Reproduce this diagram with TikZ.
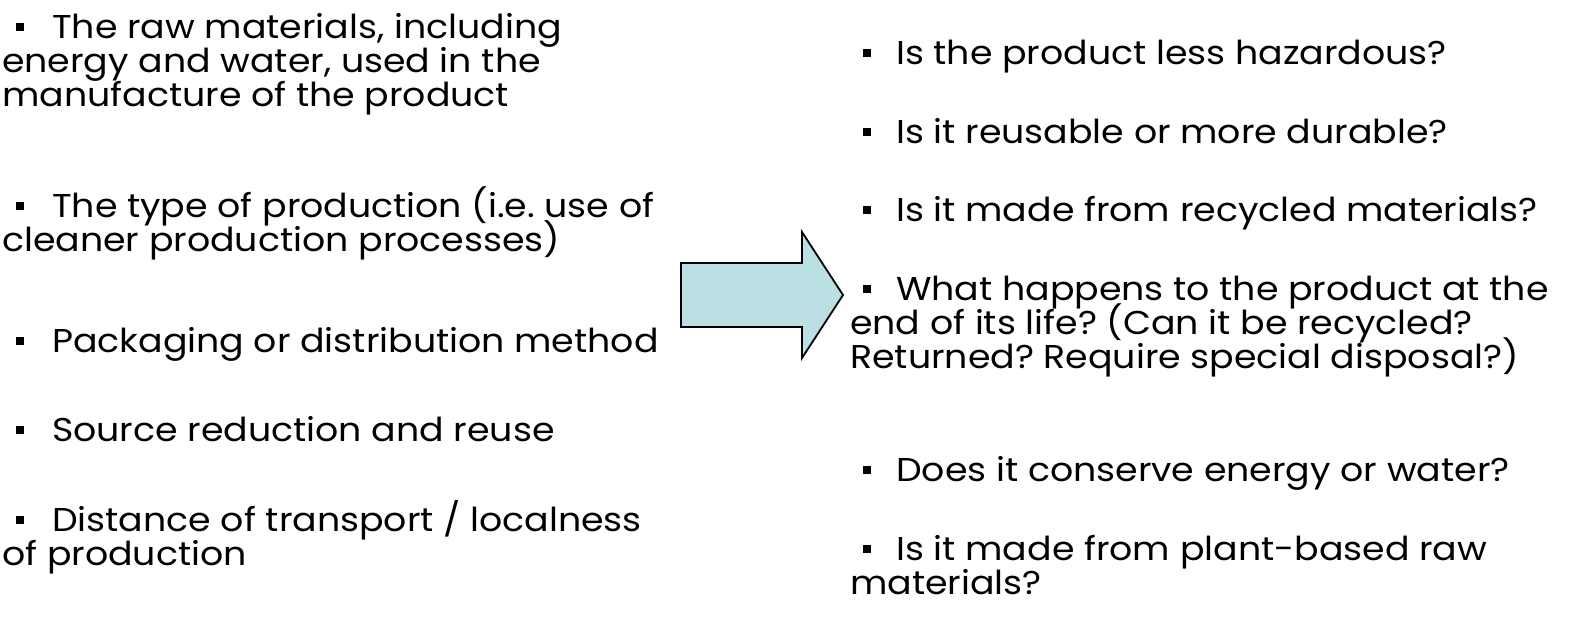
\documentclass[tikz,border=0pt]{standalone}
\usepackage{fontspec}
\setmainfont[FakeStretch=1.1]{Poppins}
\newcommand{\itemfont}{\fontsize{33}{34.4}\selectfont\lineskiplimit=-100pt\relax\lineskip=0pt\relax\frenchspacing}
\newcommand{\blt}[1]{\hspace{#1}\raisebox{7.5pt}{\rule{8pt}{8pt}}}
\begin{document}
\begin{tikzpicture}[x=1pt,y=-1pt]
\definecolor{arrowfill}{RGB}{186,224,228}
\tikzset{
  item/.style={anchor=base west, inner sep=0pt, align=left, font=\itemfont},
}
\useasboundingbox (0,0) rectangle (1587,630);
% left column (anchor at the baseline of the last line)
\node[item] (l1) at (2,106.8) {\blt{14pt}\hspace{28pt}The raw materials, including\\energy and water, used in the\\manufacture of the product};
\node[item] (l2) at (2,251.4) {\blt{14pt}\hspace{28pt}The type of production (i.e. use of\\cleaner production processes)};
\node[item] (l3) at (2,352) {\blt{14pt}\hspace{28pt}Packaging or distribution method};
\node[item] (l4) at (2,441) {\blt{14pt}\hspace{28pt}Source reduction and reuse};
\node[item] (l5) at (2,565.4) {\blt{14pt}\hspace{28pt}Distance of transport / localness\\of production};
% arrow
\draw[fill=arrowfill, line width=1.8pt, line join=miter]
  (681,263) -- (802,263) -- (802,232) -- (843,295) -- (802,358) -- (802,327) -- (681,327) -- cycle;
% right column
\node[item] (r1) at (850,64) {\blt{13pt}\hspace{25pt}Is the product less hazardous?};
\node[item] (r2) at (850,143) {\blt{13pt}\hspace{25pt}Is it reusable or more durable?};
\node[item] (r3) at (850,221) {\blt{13pt}\hspace{25pt}Is it made from recycled materials?};
\node[item] (r4) at (850,368.8) {\blt{13pt}\hspace{25pt}What happens to the product at the\\end of its life? (Can it be recycled?\\Returned? Require special disposal?)};
\node[item] (r5) at (850,481) {\blt{13pt}\hspace{25pt}Does it conserve energy or water?};
\node[item] (r6) at (850,594.4) {\blt{13pt}\hspace{25pt}Is it made from plant-based raw\\materials?};
\end{tikzpicture}
\end{document}
